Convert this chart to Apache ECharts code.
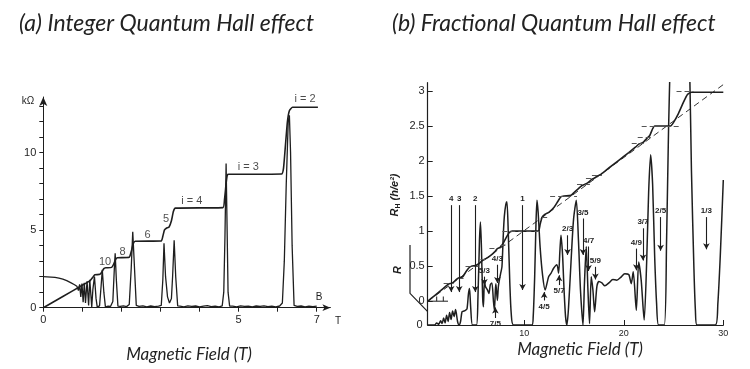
<!DOCTYPE html>
<html><head><meta charset="utf-8">
<script src="https://cdn.jsdelivr.net/npm/echarts@6/dist/echarts.min.js"></script>
<style>html,body{margin:0;padding:0;background:#fff}#c{width:750px;height:369px}</style>
</head><body><div id="c"></div>
<script>
// ---------- Panel (a): Integer QHE ----------
const A_X_TICKS = [0,1,2,3,4,5,6,7];
const A_X_LABELS = [0,5,7];
const A_Y_TICKS = [0,1,2,3,4,5,6,7,8,9,10,11,12,13];
const A_Y_LABELS = [0,5,10];
// Hall resistance [B (T), kOhm]
const A_HALL = [[0,0],[0.5,0.72],[1.0,1.45],[1.2,1.75],[1.28,2.0],[1.32,2.12],[1.45,2.15],[1.5,2.3],[1.55,2.52],[1.6,2.57],[1.75,2.6],[1.8,2.8],[1.86,3.15],[1.9,3.22],[2.2,3.25],[2.25,3.6],[2.3,4.1],[2.35,4.28],[3.02,4.3],[3.06,4.6],[3.1,5.0],[3.15,5.12],[3.22,5.2],[3.28,5.6],[3.33,6.2],[3.38,6.42],[4.6,6.45],[4.64,7.0],[4.68,8.0],[4.71,8.55],[4.75,8.6],[6.1,8.62],[6.15,9.0],[6.2,10.5],[6.25,12.0],[6.3,12.7],[6.38,12.92],[7.03,12.92]];
// Longitudinal resistance [B (T), kOhm]
const A_RXX = [[0.0,2.0],[0.1,1.99],[0.2,1.97],[0.3,1.95],[0.4,1.9],[0.5,1.84],[0.6,1.74],[0.7,1.62],[0.8,1.48],[0.86,1.38],[0.9,1.1],[0.93,1.5],[0.96,0.7],[0.99,1.55],[1.02,0.35],[1.05,1.6],[1.08,0.3],[1.12,1.7],[1.16,0.15],[1.19,1.8],[1.24,0.05],[1.27,1.2],[1.31,2.0],[1.35,0.6],[1.38,0.05],[1.44,0.12],[1.48,1.4],[1.51,2.45],[1.55,1.0],[1.59,0.05],[1.66,0.1],[1.72,0.08],[1.78,0.4],[1.82,2.6],[1.84,3.5],[1.87,1.8],[1.91,0.1],[1.97,0.08],[2.05,0.12],[2.13,0.07],[2.2,0.2],[2.25,2.5],[2.29,4.9],[2.33,2.8],[2.38,0.15],[2.45,0.08],[2.55,0.12],[2.65,0.06],[2.75,0.11],[2.85,0.07],[2.95,0.1],[3.02,0.15],[3.06,1.8],[3.09,4.15],[3.13,2.0],[3.18,0.7],[3.23,0.3],[3.28,0.6],[3.31,2.0],[3.35,4.35],[3.39,2.0],[3.44,0.12],[3.5,0.1],[3.6,0.06],[3.7,0.12],[3.8,0.08],[3.9,0.11],[4.0,0.05],[4.1,0.1],[4.2,0.13],[4.3,0.07],[4.4,0.1],[4.5,0.06],[4.58,0.12],[4.62,1.0],[4.65,4.5],[4.68,9.3],[4.7,6.0],[4.73,1.0],[4.77,0.1],[4.85,0.1],[4.95,0.06],[5.05,0.12],[5.15,0.08],[5.25,0.1],[5.35,0.05],[5.45,0.11],[5.55,0.08],[5.65,0.12],[5.75,0.07],[5.85,0.1],[5.95,0.06],[6.05,0.11],[6.12,0.3],[6.17,3.0],[6.22,8.0],[6.27,12.0],[6.3,12.4],[6.33,10.0],[6.37,4.0],[6.42,0.15],[6.5,0.08],[6.6,0.11],[6.7,0.06],[6.8,0.1],[6.9,0.07],[7.0,0.1]];
// plateau annotations [B, kOhm, text]
const A_NOTES = [[1.58,2.96,'10'],[2.03,3.61,'8'],[2.67,4.71,'6'],[3.14,5.71,'5'],[3.8,6.87,'i = 4'],[5.25,9.08,'i = 3'],[6.7,13.43,'i = 2']];

// ---------- Panel (b): Fractional QHE ----------
const B_X_LABELS = [10,20,30];
const B_Y_LABELS = [0,0.5,1,1.5,2,2.5,3];
const B_R_LABELS = [0];
// Hall resistance R_H [B (T), h/e^2]
const B_RH = [[0.32,0],[1.0,0.08],[1.6,0.15],[2.1,0.21],[2.4,0.245],[2.8,0.26],[3.1,0.3],[3.4,0.33],[3.8,0.345],[4.1,0.41],[4.4,0.47],[4.7,0.5],[5.1,0.51],[5.4,0.53],[5.8,0.58],[6.2,0.61],[6.6,0.65],[7.0,0.70],[7.3,0.75],[7.6,0.77],[7.9,0.83],[8.2,0.91],[8.5,0.98],[8.8,1.0],[11.4,1.0],[11.6,1.1],[11.8,1.2],[12.1,1.24],[12.5,1.27],[13.0,1.34],[13.4,1.43],[13.7,1.49],[14.0,1.5],[14.7,1.51],[15.0,1.55],[15.4,1.6],[15.8,1.65],[16.1,1.667],[16.4,1.69],[16.8,1.74],[17.1,1.76],[17.4,1.79],[17.7,1.81],[18.5,1.9],[19.5,2.01],[20.5,2.12],[21.2,2.2],[21.5,2.24],[21.9,2.26],[22.3,2.32],[22.6,2.36],[22.9,2.46],[23.1,2.5],[24.7,2.5],[25.0,2.55],[25.5,2.68],[26.0,2.84],[26.4,2.95],[26.8,2.98],[30,2.98]];
// classical Hall line
const B_CLASSICAL = [[0.32,0],[30,3.09]];
// expected plateau values [B start, B end, R_H]
const B_PLATEAUS = [[1.9,2.9,0.25],[3.4,4.2,0.333],[4.1,5.6,0.5],[5.6,6.2,0.6],[6.5,7.2,0.75],[7.6,8.1,0.8],[7.8,11.8,1.0],[11.8,12.4,1.2],[12.6,15.3,1.5],[15.3,16.6,1.667],[16.2,17.0,1.75],[16.8,17.8,1.8],[20.8,22.0,2.25],[21.4,22.8,2.333],[21.8,25.8,2.5],[25.3,27.0,3.0]];
// longitudinal resistance R [B (T), arb. units]
const B_R = [[0.32,0],[1.0,0.0],[1.2,0.03],[1.4,0.01],[1.6,0.06],[1.75,0.02],[1.9,0.1],[2.05,0.03],[2.2,0.14],[2.35,0.05],[2.5,0.18],[2.65,0.08],[2.8,0.2],[2.95,0.12],[3.1,0.22],[3.3,0.05],[3.45,0],[3.6,0.05],[3.75,0.19],[3.95,0.2],[4.1,0.21],[4.25,0.23],[4.4,0.45],[4.5,0.52],[4.62,0.25],[4.8,0.0],[5.2,0.0],[5.35,0.4],[5.5,1.2],[5.6,1.47],[5.7,1.1],[5.82,0.4],[5.9,0.26],[6.0,0.64],[6.1,0.55],[6.3,0.5],[6.45,0.45],[6.6,0.58],[6.75,0.6],[6.9,0.35],[7.0,0.21],[7.1,0.5],[7.15,0.59],[7.3,0.35],[7.4,0.55],[7.5,0.64],[7.65,0.75],[7.76,0.83],[7.9,1.3],[8.0,1.55],[8.15,1.72],[8.26,1.76],[8.4,1.3],[8.55,0.6],[8.7,0.15],[8.92,0],[10.77,0],[10.9,0.12],[11.05,0.7],[11.18,1.45],[11.28,1.78],[11.4,1.6],[11.6,1.1],[11.85,0.7],[12.1,0.5],[12.45,0.69],[12.7,0.74],[12.95,0.81],[13.28,0.86],[13.45,0.74],[13.58,1.05],[13.69,1.28],[13.85,1.0],[14.0,0.5],[14.15,0.12],[14.29,0],[14.45,0.25],[14.7,0.9],[14.95,1.5],[15.23,1.78],[15.45,1.2],[15.65,0.5],[15.9,0],[16.05,0.6],[16.23,1.12],[16.4,0.5],[16.56,0.02],[16.73,0.69],[16.9,0.5],[17.07,0.19],[17.3,0.55],[17.5,0.62],[17.8,0.6],[18.1,0.56],[18.5,0.6],[18.9,0.65],[19.3,0.64],[19.7,0.68],[20.1,0.73],[20.5,0.72],[20.75,0.59],[20.95,0.76],[21.26,0.21],[21.5,0.9],[21.75,0.64],[22.05,0.07],[22.3,0.9],[22.5,1.9],[22.7,2.43],[22.9,2.0],[23.1,1.0],[23.3,0.3],[23.5,0],[24.07,0],[24.3,1.2],[24.5,2.8],[24.67,3.8],[25.6,9.0],[26.6,3.8],[26.8,2.2],[27.05,0.8],[27.2,0.2],[27.36,0],[29.2,0],[29.45,0.3],[29.7,1.0],[30.0,2.07]];
// fraction markers [label, B, R from, R to]
const B_ARROWS = [['4',2.66,1.71,0.47],['3',3.47,1.71,0.47],['2',5.08,1.71,0.47],['1',9.83,1.71,0.5],['5/3',6.0,0.69,0.57],['4/3',7.3,0.86,0.6],['7/5',7.1,0.1,0.25],['4/5',12.0,0.35,0.47],['5/7',13.5,0.57,0.71],['2/3',14.35,1.28,1.0],['3/5',15.9,1.52,1.0],['4/7',16.46,1.12,0.77],['5/9',17.15,0.83,0.65],['4/9',21.26,1.09,0.78],['3/7',21.93,1.38,0.92],['2/5',23.7,1.54,1.06],['1/3',28.3,1.54,1.08]];

const INK = '#1e1e1e';
const FONT = "'Liberation Sans', Arial, sans-serif";
const TITLE_FONT = "Lato, 'Open Sans', sans-serif";

const chart = echarts.init(document.getElementById('c'), null, {renderer: 'canvas'});

const option = {
  animation: false,
  backgroundColor: '#ffffff',
  title: [
    {text: '(a) Integer Quantum Hall effect', left: 14, top: 7,
     textStyle: {fontFamily: TITLE_FONT, fontStyle: 'italic', fontWeight: 'normal', fontSize: 23, color: '#222'}},
    {text: '(b) Fractional Quantum Hall effect', left: 387, top: 7,
     textStyle: {fontFamily: TITLE_FONT, fontStyle: 'italic', fontWeight: 'normal', fontSize: 23, color: '#222'}}
  ],
  grid: [
    {left: 43.3, top: 97, width: 287.1, height: 210.7},
    {left: 427.7, top: 82.7, width: 295.6, height: 242.3}
  ],
  xAxis: [
    {type: 'value', gridIndex: 0, min: 0, max: 7.35,
     axisLine: {show: true, lineStyle: {color: INK, width: 1}, symbol: ['none', 'arrow'], symbolSize: [5, 8]},
     axisTick: {show: true, customValues: A_X_TICKS, inside: false, length: 4, lineStyle: {color: INK}},
     axisLabel: {customValues: A_X_LABELS, color: INK, fontSize: 11, fontFamily: FONT, margin: 7},
     splitLine: {show: false}},
    {type: 'value', gridIndex: 1, min: 0.3, max: 30,
     axisLine: {show: true, onZero: false, lineStyle: {color: INK, width: 1.2}},
     axisTick: {show: true, customValues: B_X_LABELS, inside: true, length: 5, lineStyle: {color: INK}},
     axisLabel: {customValues: B_X_LABELS, color: INK, fontSize: 9, fontFamily: FONT, margin: 4},
     splitLine: {show: false}}
  ],
  yAxis: [
    {type: 'value', gridIndex: 0, min: 0, max: 13.58,
     axisLine: {show: true, lineStyle: {color: INK, width: 1}, symbol: ['none', 'arrow'], symbolSize: [6, 9]},
     axisTick: {show: true, customValues: A_Y_TICKS, inside: false, length: 4, lineStyle: {color: INK}},
     axisLabel: {customValues: A_Y_LABELS, color: INK, fontSize: 11, fontFamily: FONT, margin: 7},
     splitLine: {show: false}},
    {type: 'value', gridIndex: 1, min: -0.34, max: 3.117,
     axisLine: {show: true, onZero: false, lineStyle: {color: INK, width: 1.2}},
     axisTick: {show: true, customValues: B_Y_LABELS, inside: true, length: 5, lineStyle: {color: INK}},
     axisLabel: {customValues: B_Y_LABELS, color: INK, fontSize: 11, fontFamily: FONT, margin: 3},
     splitLine: {show: false}},
    {type: 'value', gridIndex: 1, min: 0, max: 3.457, position: 'left',
     axisLine: {show: false}, axisTick: {show: false},
     axisLabel: {customValues: B_R_LABELS, color: INK, fontSize: 11, fontFamily: FONT, margin: 5},
     splitLine: {show: false}}
  ],
  series: [
    {type: 'line', xAxisIndex: 0, yAxisIndex: 0, data: A_RXX, showSymbol: false, smooth: false,
     lineStyle: {color: INK, width: 1.3}},
    {type: 'line', xAxisIndex: 0, yAxisIndex: 0, data: A_HALL, showSymbol: false, smooth: 0.15,
     lineStyle: {color: INK, width: 1.6}},
    {type: 'scatter', xAxisIndex: 0, yAxisIndex: 0, data: A_NOTES, symbolSize: 0,
     label: {show: true, position: 'inside', formatter: p => p.data[2], color: INK, fontSize: 11, fontFamily: FONT}},
    {type: 'line', xAxisIndex: 1, yAxisIndex: 1, data: B_CLASSICAL, showSymbol: false,
     lineStyle: {color: '#333', width: 1, type: [6, 4]}},
    {type: 'line', xAxisIndex: 1, yAxisIndex: 1, data: B_RH, showSymbol: false, smooth: 0.2,
     lineStyle: {color: INK, width: 1.6},
     markLine: {silent: true, symbol: ['none', 'none'], label: {show: false},
       lineStyle: {color: '#555', width: 1, type: [5, 3]},
       data: B_PLATEAUS.map(p => [{coord: [p[0], p[2]]}, {coord: [p[1], p[2]]}])}},
    {type: 'line', xAxisIndex: 1, yAxisIndex: 2, data: B_R, showSymbol: false, smooth: 0.25,
     lineStyle: {color: INK, width: 1.5},
     markLine: {silent: true, symbol: ['none', 'arrow'], symbolSize: [5, 6],
       lineStyle: {color: INK, width: 1.1, type: 'solid'},
       label: {show: true, position: 'start', formatter: '{b}', color: INK, fontSize: 8, fontWeight: 'bold', fontFamily: FONT, distance: 2},
       data: B_ARROWS.map(a => [{name: a[0], coord: [a[1], a[2]]}, {coord: [a[1], a[3]]}])}}
  ],
  graphic: [
    {type: 'text', x: 28, y: 101, style: {text: 'kΩ', font: "10px 'Liberation Sans', Arial", fill: INK, align: 'center', verticalAlign: 'middle'}},
    {type: 'text', x: 319, y: 297, style: {text: 'B', font: "10px 'Liberation Sans', Arial", fill: INK, align: 'center', verticalAlign: 'middle'}},
    {type: 'text', x: 338, y: 321, style: {text: 'T', font: "10px 'Liberation Sans', Arial", fill: INK, align: 'center', verticalAlign: 'middle'}},
    {type: 'text', x: 189, y: 355, style: {text: 'Magnetic Field (T)', font: "italic 17px Lato, 'Open Sans', sans-serif", fill: '#222', align: 'center', verticalAlign: 'middle'}},
    {type: 'text', x: 580, y: 350, style: {text: 'Magnetic Field (T)', font: "italic 17px Lato, 'Open Sans', sans-serif", fill: '#222', align: 'center', verticalAlign: 'middle'}},
    {type: 'text', x: 395, y: 195, rotation: Math.PI / 2,
     style: {text: '{i|R}{s|H}{i| (h/e²)}', align: 'center', verticalAlign: 'middle', fill: INK,
       rich: {i: {fontStyle: 'italic', fontWeight: 'bold', fontSize: 11, fontFamily: FONT, lineHeight: 14, fill: INK},
              s: {fontWeight: 'bold', fontSize: 7, fontFamily: FONT, lineHeight: 14, verticalAlign: 'bottom', fill: INK}}}},
    {type: 'text', x: 398, y: 270, rotation: Math.PI / 2,
     style: {text: 'R', font: "italic bold 11px 'Liberation Sans', Arial", fill: INK, align: 'center', verticalAlign: 'middle'}},
    {type: 'polyline', shape: {points: [[410, 245], [410, 293.3], [427.7, 311.7]]}, style: {stroke: INK, lineWidth: 1.2, fill: null}},
    {type: 'polyline', shape: {points: [[427.7, 301.2], [448, 301.2]]}, style: {stroke: INK, lineWidth: 1, fill: null}},
    {type: 'polyline', shape: {points: [[436.7, 301.2], [436.7, 296.5]]}, style: {stroke: INK, lineWidth: 1, fill: null}},
    {type: 'polyline', shape: {points: [[443.3, 301.2], [443.3, 296.5]]}, style: {stroke: INK, lineWidth: 1, fill: null}}
  ]
};
chart.setOption(option);
</script></body></html>
